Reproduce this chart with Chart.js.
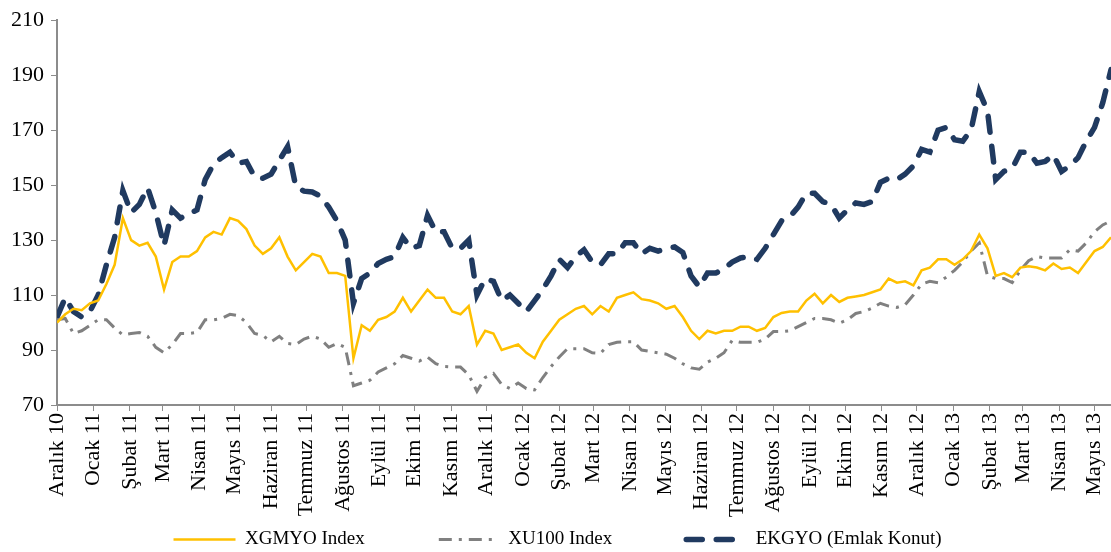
<!DOCTYPE html>
<html>
<head>
<meta charset="utf-8">
<script src="https://cdn.jsdelivr.net/npm/chart.js@4"></script>
<style>
  html, body { margin: 0; padding: 0; background: #fff; }
  #wrap { width: 1111px; height: 552px; }
</style>
</head>
<body>
<div id="wrap"><canvas id="endeks"></canvas></div>
<script>
// ay etiketleri (Aralık 2010 - Mayıs 2013)
const aylar = ['Aralık 10', 'Ocak 11', 'Şubat 11', 'Mart 11', 'Nisan 11', 'Mayıs 11', 'Haziran 11',
    'Temmuz 11', 'Ağustos 11', 'Eylül 11', 'Ekim 11', 'Kasım 11', 'Aralık 11', 'Ocak 12', 'Şubat 12',
    'Mart 12', 'Nisan 12', 'Mayıs 12', 'Haziran 12', 'Temmuz 12', 'Ağustos 12', 'Eylül 12', 'Ekim 12',
    'Kasım 12', 'Aralık 12', 'Ocak 13', 'Şubat 13', 'Mart 13', 'Nisan 13', 'Mayıs 13'];

// haftalık kapanışlar, 1 Aralık 2010 = 100
const xgmyo = [100, 103, 105, 104.5, 107, 108, 114, 121, 138, 130,
    128, 129, 124, 112, 122, 124, 124, 126, 131, 133,
    132, 138, 137, 134, 128, 125, 127, 131, 124, 119,
    122, 125, 124, 118, 118, 117, 87, 99, 97, 101,
    102, 104, 109, 104, 108, 112, 109, 109, 104, 103,
    106, 92, 97, 96, 90, 91, 92, 89, 87, 93,
    97, 101, 103, 105, 106, 103, 106, 104, 109, 110,
    111, 108.5, 108, 107, 105, 106, 102, 97, 94, 97,
    96, 97, 97, 98.5, 98.5, 97, 98, 102, 103.5, 104,
    104, 108, 110.5, 107, 110, 107.5, 109, 109.5, 110, 111,
    112, 116, 114.5, 115, 113.5, 119, 120, 123, 123, 121,
    123, 126, 132, 127, 117, 118, 116.5, 120, 120.5, 120,
    119, 121.5, 119.5, 120, 118, 122, 126, 127.5, 131];

const xu100 = [101, 101.5, 96, 97, 99, 101, 101, 98, 95.5, 96,
    96.4, 95, 91, 89, 92, 96, 96, 96.4, 101, 101,
    101.5, 103, 102.5, 100, 96, 95.3, 93, 95, 92.4, 92,
    94, 95, 94, 91, 92.4, 91, 77, 78, 79, 82,
    83.5, 85, 88, 87, 86, 87.4, 85, 84, 83.8, 83.8,
    81, 75, 80, 81.5, 77.5, 76, 78, 76, 75.5, 80,
    84, 87.5, 90.5, 90.5, 90.5, 89, 88.8, 92, 92.8, 93,
    93, 90, 89.5, 89, 88.5, 87, 85, 83.5, 83, 85.6,
    87, 89, 93.5, 92.8, 92.8, 92.8, 94, 96.7, 96.7, 97,
    98.5, 100, 101.5, 101.5, 101, 99.8, 101, 103.3, 104, 105.3,
    107, 106, 105.5, 106.5, 110, 114, 115, 114.5, 116.5, 119,
    122, 126, 129, 117, 116, 116, 114.5, 119, 122.5, 124,
    123.5, 123.5, 123.5, 126.5, 126, 129, 133, 135.5, 137];

const ekgyo = [102, 109, 104, 102, 104, 110, 121, 131, 148, 140,
    143, 149, 140, 128, 141, 138, 139.5, 141, 152, 157.6,
    160, 162, 158, 158.6, 153, 152.5, 154, 159, 164, 149.5,
    147.8, 147.5, 146, 142, 137, 130, 107, 116, 118, 121.5,
    123, 124, 131, 127, 128, 139, 133, 133, 127, 127,
    130, 110, 116, 115, 108, 110, 107, 104, 108, 112,
    117, 123, 120, 124, 126.5, 122, 121, 125, 125, 129,
    129, 125, 127, 126, 127, 127.5, 125.5, 117, 113, 118,
    118, 119.5, 122, 123.5, 124, 123, 127, 132, 137, 138.5,
    142, 147, 147, 144, 143, 138, 141, 143.5, 143, 144,
    151, 152.5, 152, 154, 157, 163, 162, 170, 171, 166.5,
    166, 170, 184, 177, 152, 155, 156, 162, 162, 158,
    158.6, 161, 155, 157, 160, 166, 171, 180, 192];

// gün cinsinden ayın ilk günleri
const baslangic = Date.UTC(2010, 11, 1);
const ayGunleri = aylar.map((_, k) => (Date.UTC(2010, 11 + k, 1) - baslangic) / 864e5);
const haftalik = arr => arr.map((v, i) => ({ x: i * 7, y: v }));

const serif = "'Liberation Serif', 'Times New Roman', serif";
const eksenYazi = { family: serif, size: 22 };
const eksenRengi = '#8c8c8c';

new Chart(document.getElementById('endeks'), {
    type: 'line',
    data: {
        datasets: [{
            label: 'XGMYO Index',
            data: haftalik(xgmyo),
            borderColor: '#FFC000',
            borderWidth: 2.5,
            pointRadius: 0,
            tension: 0
        }, {
            label: 'XU100 Index',
            data: haftalik(xu100),
            borderColor: '#808080',
            borderWidth: 3,
            borderDash: [13, 7, 3, 7],
            pointRadius: 0,
            tension: 0
        }, {
            label: 'EKGYO (Emlak Konut)',
            data: haftalik(ekgyo),
            borderColor: '#203A60',
            borderWidth: 5.5,
            borderDash: [16, 14],
            borderCapStyle: 'round',
            pointRadius: 0,
            tension: 0
        }]
    },
    options: {
        responsive: true,
        maintainAspectRatio: false,
        animation: false,
        layout: { padding: { top: 0, right: 0, left: 4, bottom: 0 } },
        plugins: {
            legend: {
                position: 'bottom',
                maxHeight: 94,
                labels: {
                    usePointStyle: true,
                    pointStyle: 'line',
                    pointStyleWidth: 62,
                    boxHeight: 19,
                    padding: 72,
                    color: '#000',
                    font: { family: serif, size: 19 },
                    // lejant çizgileri serilerin kesik çizgi desenini alsın
                    generateLabels: chart => Chart.defaults.plugins.legend.labels.generateLabels(chart).map(item => {
                        const ds = chart.data.datasets[item.datasetIndex];
                        item.lineDash = ds.borderDash || [];
                        item.lineDashOffset = 28;
                        item.lineCap = ds.borderCapStyle || 'butt';
                        item.lineWidth = ds.borderWidth;
                        return item;
                    })
                }
            },
            tooltip: { enabled: false }
        },
        scales: {
            x: {
                type: 'linear',
                min: 0,
                max: (xgmyo.length - 1) * 7,
                afterBuildTicks: axis => {
                    axis.ticks = ayGunleri.map(v => ({ value: v }));
                },
                // etiketler lejant alanına taşabilir: kırpma yok, sağ boşluk yok
                afterFit: axis => {
                    axis.height = 53;
                    axis.paddingRight = 0;
                    axis._computeLabelArea = () => undefined;
                },
                ticks: {
                    autoSkip: false,
                    minRotation: 90,
                    maxRotation: 90,
                    color: '#000',
                    font: eksenYazi,
                    padding: 2,
                    callback: v => aylar[ayGunleri.indexOf(v)]
                },
                grid: { drawOnChartArea: false, color: eksenRengi, tickLength: 6 },
                border: { color: eksenRengi, width: 2 }
            },
            y: {
                min: 70,
                max: 210,
                ticks: { stepSize: 20, color: '#000', font: eksenYazi, padding: 7 },
                grid: { drawOnChartArea: false, color: eksenRengi, tickLength: 6 },
                border: { color: eksenRengi, width: 2 }
            }
        }
    }
});
</script>
</body>
</html>
